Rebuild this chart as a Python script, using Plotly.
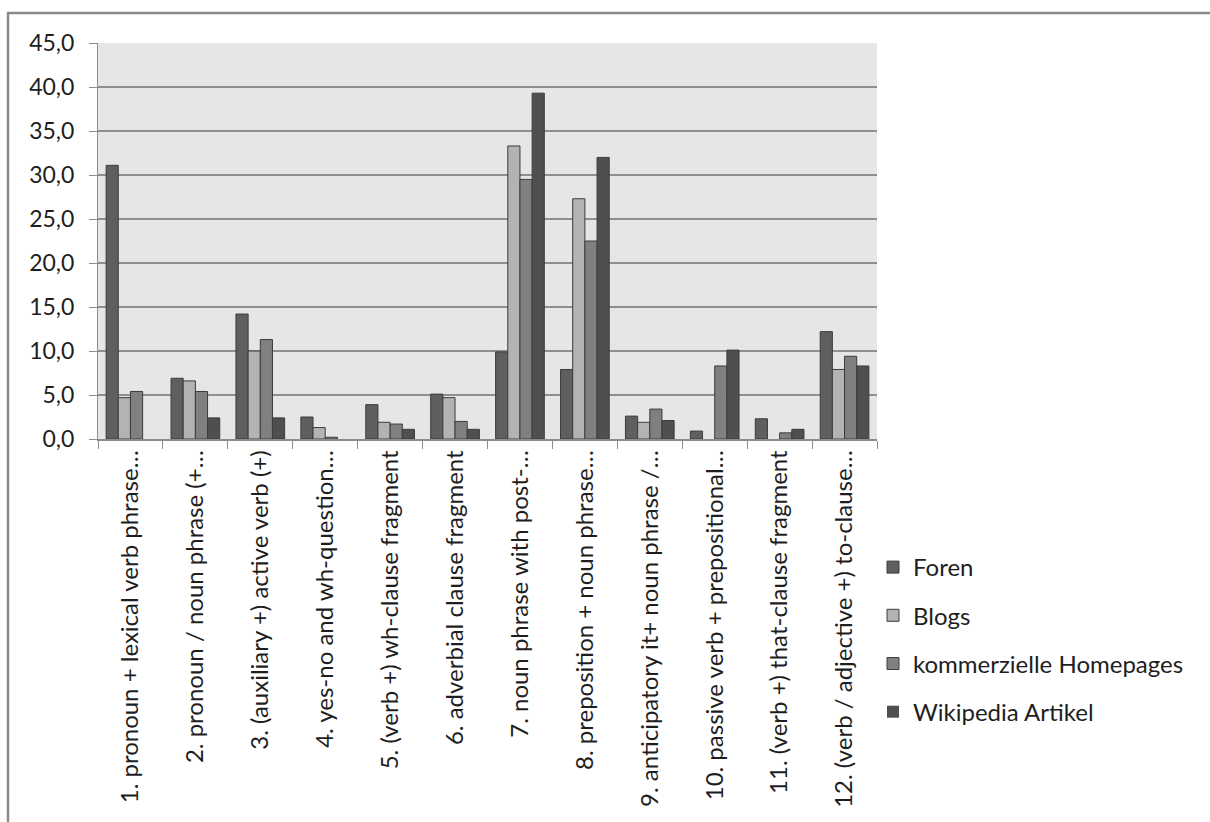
import plotly.graph_objects as go

# Category labels (truncated as they appear on the axis)
categories = [
    "1. pronoun + lexical verb phrase…",
    "2. pronoun / noun phrase (+…",
    "3. (auxiliary +) active verb (+)",
    "4. yes-no and wh-question…",
    "5. (verb +) wh-clause fragment",
    "6. adverbial clause fragment",
    "7. noun phrase with post-…",
    "8. preposition + noun phrase…",
    "9. anticipatory it+ noun phrase /…",
    "10. passive verb + prepositional…",
    "11. (verb +) that-clause fragment",
    "12. (verb / adjective +) to-clause…",
]

foren = [31.1, 6.9, 14.2, 2.5, 3.9, 5.1, 9.9, 7.9, 2.6, 0.9, 2.3, 12.2]
blogs = [4.7, 6.6, 10.0, 1.3, 1.9, 4.7, 33.3, 27.3, 1.9, 0.0, 0.0, 7.9]
kommerzielle = [5.4, 5.4, 11.3, 0.2, 1.7, 2.0, 29.5, 22.5, 3.4, 8.3, 0.7, 9.4]
wikipedia = [0.0, 2.4, 2.4, 0.0, 1.1, 1.1, 39.3, 32.0, 2.1, 10.1, 1.1, 8.3]

series_names = ["Foren", "Blogs", "kommerzielle Homepages", "Wikipedia Artikel"]
series_values = [foren, blogs, kommerzielle, wikipedia]
series_colors = ["#5f5f5f", "#b3b3b3", "#808080", "#4f4f4f"]

y_ticks = [0, 5, 10, 15, 20, 25, 30, 35, 40, 45]

FONT = "Lato, 'Open Sans', sans-serif"
TEXT = "#1e1e1e"

fig = go.Figure()
for name, vals, col in zip(series_names, series_values, series_colors):
    fig.add_trace(go.Bar(
        x=categories,
        y=vals,
        name=name,
        legendgroup=name,
        marker=dict(
            color=col,
            # no outline for empty bars so nothing is drawn at zero
            line=dict(color="#3c3c3c", width=[1 if v > 0 else 0 for v in vals]),
        ),
    ))

W, H = 1210, 822
ml, mr, mt, mb = 98, 333, 43, 383
pw = W - ml - mr
ph = H - mt - mb

fig.update_layout(
    width=W,
    height=H,
    margin=dict(l=ml, r=mr, t=mt, b=mb, autoexpand=False),
    paper_bgcolor="white",
    plot_bgcolor="#e6e6e6",
    barmode="group",
    bargap=0.25,
    bargroupgap=0,
    separators=",.",
    font=dict(family=FONT, color=TEXT),
    showlegend=True,
    legend=dict(
        x=(873 - ml) / pw,
        y=(H - mb - 545) / ph,
        xanchor="left",
        yanchor="top",
        traceorder="grouped",
        tracegroupgap=14,
        font=dict(family=FONT, size=24, color=TEXT),
        bgcolor="rgba(0,0,0,0)",
        itemwidth=30,
    ),
    xaxis=dict(
        type="category",
        tickangle=-90,
        tickfont=dict(family=FONT, size=24, color=TEXT),
        ticks="outside",
        tickson="boundaries",
        ticklen=8,
        tickcolor="#8c8c8c",
        showline=True,
        linecolor="#8c8c8c",
        linewidth=1.5,
        showgrid=False,
    ),
    yaxis=dict(
        range=[0, 45],
        tickvals=y_ticks,
        tickformat=".1f",
        tickfont=dict(family=FONT, size=23, color=TEXT),
        ticks="outside",
        ticklen=8,
        tickcolor="#8c8c8c",
        ticklabelstandoff=10,
        showline=True,
        linecolor="#8c8c8c",
        linewidth=1,
        showgrid=True,
        gridcolor="#8f8f8f",
        gridwidth=1.5,
        zeroline=False,
    ),
    shapes=[
        # outer chart border (extends past the window on the right and bottom)
        dict(
            type="rect",
            xref="paper",
            yref="paper",
            x0=(8 - ml) / pw,
            x1=(W + 20 - ml) / pw,
            y0=(H - mb - (H + 20)) / ph,
            y1=(H - mb - 13) / ph,
            line=dict(color="#8a8a8a", width=2.5),
            fillcolor="rgba(0,0,0,0)",
            layer="below",
        )
    ],
)

fig.write_html("out.html")
